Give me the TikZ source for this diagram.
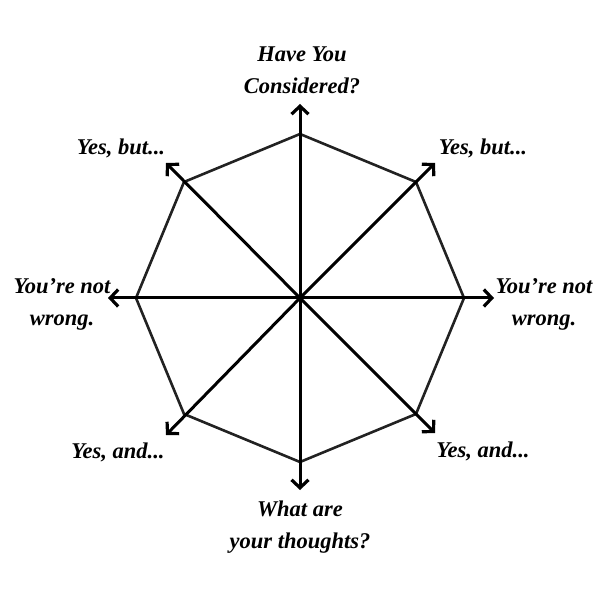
\documentclass[tikz,border=0pt]{standalone}
\usepackage{fontspec}
\setmainfont{Liberation Serif}
\usetikzlibrary{arrows.meta}
\begin{document}
\begin{tikzpicture}[x=1pt,y=-1pt,
  lbl/.style={font=\fontsize{22.5}{32}\selectfont\bfseries\itshape, inner sep=0pt, align=center, text=black},
  ray/.style={line width=3pt, black, -{Straight Barb[length=8pt,width=17pt,line width=3.2pt]}},
  octo/.style={line width=2.6pt, draw={rgb,255:red,34;green,34;blue,34}, line join=miter}]
\useasboundingbox (0,0) rectangle (613,601);
\coordinate (c) at (300,298);
% octagon vertices
\coordinate (v1) at (300,134);
\coordinate (v2) at (416,182);
\coordinate (v3) at (464,298);
\coordinate (v4) at (416,414);
\coordinate (v5) at (300,462);
\coordinate (v6) at (184,414);
\coordinate (v7) at (136,298);
\coordinate (v8) at (184,182);
% arrow tips
\coordinate (t1) at (300,104);
\coordinate (t2) at (435,163);
\coordinate (t3) at (494,298);
\coordinate (t4) at (435,433);
\coordinate (t5) at (300,490);
\coordinate (t6) at (166,435);
\coordinate (t7) at (108,298);
\coordinate (t8) at (166,163);
\draw[octo] (v1) -- (v2) -- (v3) -- (v4) -- (v5) -- (v6) -- (v7) -- (v8) -- cycle;
\foreach \i in {1,...,8} {\draw[ray] (c) -- (t\i);}
% labels
\node[lbl] (l1) at (302,70) {Have You\\Considered?};
\node[lbl, anchor=base] (l2) at (483,155) {Yes, but...};
\node[lbl] (l3) at (544,304) {You're not\\wrong.};
\node[lbl, anchor=base] (l4) at (483,457) {Yes, and...};
\node[lbl] (l5) at (300,527) {What are\\your thoughts?};
\node[lbl, anchor=base] (l6) at (118,458) {Yes, and...};
\node[lbl] (l7) at (62,304) {You're not\\wrong.};
\node[lbl, anchor=base] (l8) at (121,155) {Yes, but...};
\end{tikzpicture}
\end{document}
